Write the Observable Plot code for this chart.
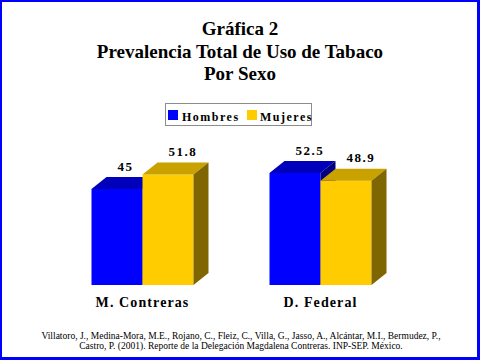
<!DOCTYPE html>
<html><head><meta charset="utf-8">
<script src="https://cdn.jsdelivr.net/npm/d3@7"></script>
<script src="https://cdn.jsdelivr.net/npm/@observablehq/plot@0.6"></script>
<style>
body{margin:0;background:#fff;}
#wrap{position:relative;width:480px;height:360px;overflow:hidden;background:#fff;font-family:"Liberation Serif","Times New Roman",serif;color:#000;}
#frame{position:absolute;left:0;top:0;width:480px;height:360px;box-sizing:border-box;border-style:solid;border-color:#0000ff;border-width:2px 3px 3px 2px;pointer-events:none;}
#title{position:absolute;left:0;top:18px;width:480px;text-align:center;font-weight:bold;font-size:19px;line-height:22.5px;}
#legend{position:absolute;left:165px;top:103px;width:147px;height:23px;box-sizing:border-box;border:1px solid #8c8c8c;}
.sw{position:absolute;width:10px;height:10px;top:6px;}
.lt{position:absolute;top:6.5px;font-weight:bold;font-size:12px;line-height:12px;letter-spacing:1.5px;white-space:nowrap;}
#chart{position:absolute;left:0;top:140px;}
#caption{position:absolute;left:0;top:330.5px;width:482px;text-align:center;font-size:9.5px;line-height:10px;white-space:nowrap;}
</style></head>
<body>
<div id="wrap">
  <div id="title"></div>
  <div id="legend"></div>
  <div id="chart"></div>
  <div id="caption"></div>
  <div id="frame"></div>
</div>
<script>
// ---- data ----
const titleLines = ["Gráfica 2", "Prevalencia Total de Uso de Tabaco", "Por Sexo"];
const groups = ["M. Contreras", "D. Federal"];
const sexes = ["Hombres", "Mujeres"];
const hombres = [45, 52.5];
const mujeres = [51.8, 48.9];
const captionLines = [
  "Villatoro, J., Medina-Mora, M.E., Rojano, C., Fleiz, C., Villa, G., Jasso, A., Alcántar, M.I., Bermudez, P.,",
  "Castro, P. (2001). Reporte de la Delegación Magdalena Contreras. INP-SEP. México."
];

// ---- styles ----
const frontColors = ["#0000ff", "#ffcc00"];
const topColors = ["#0000bb", "#c9a200"];
const sideColors = ["#000080", "#806600"];
const depthX = 15, depthY = 12;
const font = "Liberation Serif, Times New Roman, serif";

// ---- html texts ----
document.getElementById("title").innerHTML = titleLines.map(t => `<div>${t}</div>`).join("");
document.getElementById("caption").innerHTML = captionLines.map(t => `<div>${t}</div>`).join("");
const legend = document.getElementById("legend");
const swLeft = [2, 81], txtLeft = [16, 94];
sexes.forEach((s, i) => {
  const sw = document.createElement("div");
  sw.className = "sw"; sw.style.left = swLeft[i] + "px"; sw.style.background = frontColors[i];
  const tx = document.createElement("div");
  tx.className = "lt"; tx.style.left = txtLeft[i] + "px"; tx.textContent = s;
  legend.append(sw, tx);
});

// ---- table ----
const rows = groups.flatMap((g, gi) => sexes.map((s, si) => ({
  group: g, sex: s, value: si === 0 ? hombres[gi] : mujeres[gi]
})));

const spaced = ls => (index, scales, values, dims, ctx, next) => {
  const g = next(index, scales, values, dims, ctx);
  g.setAttribute("letter-spacing", ls);
  return g;
};

function bars3d(index, scales, values) {
  const g = d3.create("svg:g");
  const bw = scales.x.bandwidth();
  const order = Array.from(index).sort((a, b) => values.x[a] - values.x[b]);
  for (const i of order) {
    const si = sexes.indexOf(rows[i].sex);
    const x0 = values.x[i], x1 = x0 + bw;
    const yt = Math.min(values.y1[i], values.y2[i]);
    const yb = Math.max(values.y1[i], values.y2[i]);
    g.append("rect").attr("x", x0).attr("y", yt).attr("width", bw).attr("height", yb - yt)
      .attr("fill", values.fill ? values.fill[i] : frontColors[si]);
    g.append("path").attr("fill", topColors[si])
      .attr("d", `M${x0},${yt}L${x0 + depthX},${yt - depthY}L${x1 + depthX},${yt - depthY}L${x1},${yt}Z`);
    g.append("path").attr("fill", sideColors[si])
      .attr("d", `M${x1},${yt}L${x1 + depthX},${yt - depthY}L${x1 + depthX},${yb - depthY}L${x1},${yb}Z`);
  }
  return g.node();
}

const chart = Plot.plot({
  width: 480,
  height: 180,
  marginLeft: 52.5,
  marginRight: 70.8,
  marginTop: 17,
  marginBottom: 35,
  style: {background: "transparent", fontFamily: font, overflow: "visible"},
  fx: {domain: groups, padding: 0, axis: null, label: null},
  x: {domain: sexes, paddingInner: 0, paddingOuter: 0.731, axis: null, label: null},
  y: {domain: [0, 60], axis: null, label: null},
  color: {domain: sexes, range: frontColors},
  marks: [
    Plot.barY(rows, {fx: "group", x: "sex", y: "value", fill: "sex", render: bars3d}),
    Plot.text(rows, {
      fx: "group", x: "sex", y: "value", text: d => String(d.value),
      textAnchor: "start", lineAnchor: "bottom", dy: -19,
      fontSize: 13, fontWeight: "bold", fontFamily: font, fill: "#000",
      render: spaced("1.5px")
    }),
    Plot.text(groups, {
      fx: d => d, text: d => d, frameAnchor: "bottom", lineAnchor: "bottom", dy: 21,
      fontSize: 14, fontWeight: "bold", fontFamily: font, fill: "#000",
      render: spaced("1.1px")
    })
  ]
});
document.getElementById("chart").append(chart);
</script>
</body></html>
